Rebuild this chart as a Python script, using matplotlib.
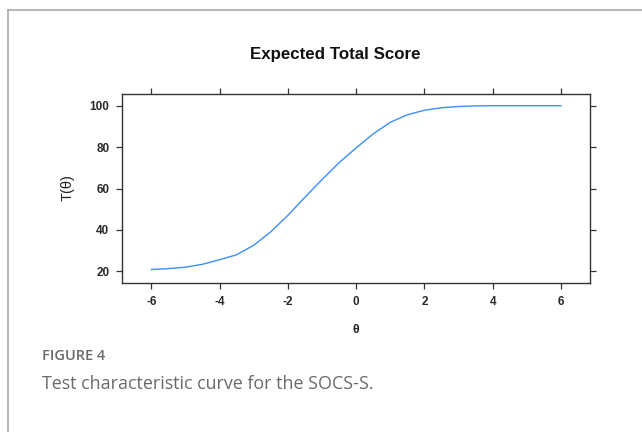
import numpy as np
import matplotlib
matplotlib.use("Agg")
import matplotlib.pyplot as plt
from matplotlib.lines import Line2D

# test characteristic curve
theta = [-6, -5.5, -5, -4.5, -4, -3.5, -3, -2.5, -2, -1.5, -1, -0.5,
         0, 0.5, 1, 1.5, 2, 2.5, 3, 3.5, 4, 5, 6]
expected_score = [20.9, 21.3, 22.0, 23.4, 25.6, 28.0, 32.6, 39.1, 47.0, 55.8, 64.3, 72.5,
                  79.6, 86.4, 92.0, 95.6, 97.8, 99.0, 99.6, 99.9, 100.0, 100.0, 100.0]

x_ticks = [-6, -4, -2, 0, 2, 4, 6]
y_ticks = [20, 40, 60, 80, 100]

TITLE = "Expected Total Score"
CAPTION_HEAD = "FIGURE 4"
CAPTION = "Test characteristic curve for the SOCS-S."

LINE_COLOR = "#3b8ff5"
AXIS_COLOR = "#333333"
CAPTION_COLOR = "#6a6a6a"

fig = plt.figure(figsize=(6.42, 4.32), dpi=100)
W, H = 642, 432

# axes box in pixel terms of the reference
left, right, top, bottom = 122.3, 590, 94.3, 282.7
ax = fig.add_axes([left / W, 1 - bottom / H, (right - left) / W, (bottom - top) / H])

ax.plot(theta, expected_score, color=LINE_COLOR, linewidth=1.0)
ax.set_xlim(-6.85, 6.85)
ax.set_ylim(14.5, 105.5)

ax.set_xticks(x_ticks)
ax.set_yticks(y_ticks)
ax.set_xticklabels([str(t) for t in x_ticks])
ax.set_yticklabels([str(t) for t in y_ticks])

tick_font = ["Liberation Sans Narrow", "Liberation Sans", "DejaVu Sans"]
for lab in ax.get_xticklabels() + ax.get_yticklabels():
    lab.set_family(tick_font)
    lab.set_fontsize(8.5)
    lab.set_fontweight("bold")
    lab.set_color("#2a2a2a")

ax.tick_params(axis="both", direction="out", length=4.3, width=0.9, color=AXIS_COLOR,
               top=True, right=True, labeltop=False, labelright=False, pad=5)
for sp in ax.spines.values():
    sp.set_color(AXIS_COLOR)
    sp.set_linewidth(1.0)

ax.set_xlabel("\u03b8", fontsize=9, family=["Liberation Sans", "DejaVu Sans"],
              fontweight="bold", labelpad=12, color="#2a2a2a")

fig.text(68 / W, 1 - 188 / H, "T(\u03b8)", rotation=90, ha="center", va="center",
         fontsize=10.5, family=["Liberation Sans", "DejaVu Sans"], color="#222222")

fig.text(335 / W, 1 - 55 / H, TITLE, ha="center", va="center", fontsize=12.2,
         fontweight="bold", family=["Liberation Sans", "DejaVu Sans"], color="#111111")

# caption below the chart
fig.text(42 / W, 1 - 356 / H, CAPTION_HEAD, ha="left", va="center", fontsize=10.5,
         fontweight="semibold", family=["Open Sans", "DejaVu Sans"], color=CAPTION_COLOR)
fig.text(42 / W, 1 - 384 / H, CAPTION, ha="left", va="center", fontsize=12.9,
         family=["Open Sans", "DejaVu Sans"], color=CAPTION_COLOR)

# light frame around the figure panel (open to the right and bottom)
frame_kw = dict(color="#aaaaaa", linewidth=1.2, transform=fig.transFigure)
fig.add_artist(Line2D([7.5 / W, 7.5 / W], [0, 1 - 9.5 / H], **frame_kw))
fig.add_artist(Line2D([7.5 / W, 1], [1 - 9.5 / H, 1 - 9.5 / H], **frame_kw))

fig.savefig("out.png", dpi=100)
